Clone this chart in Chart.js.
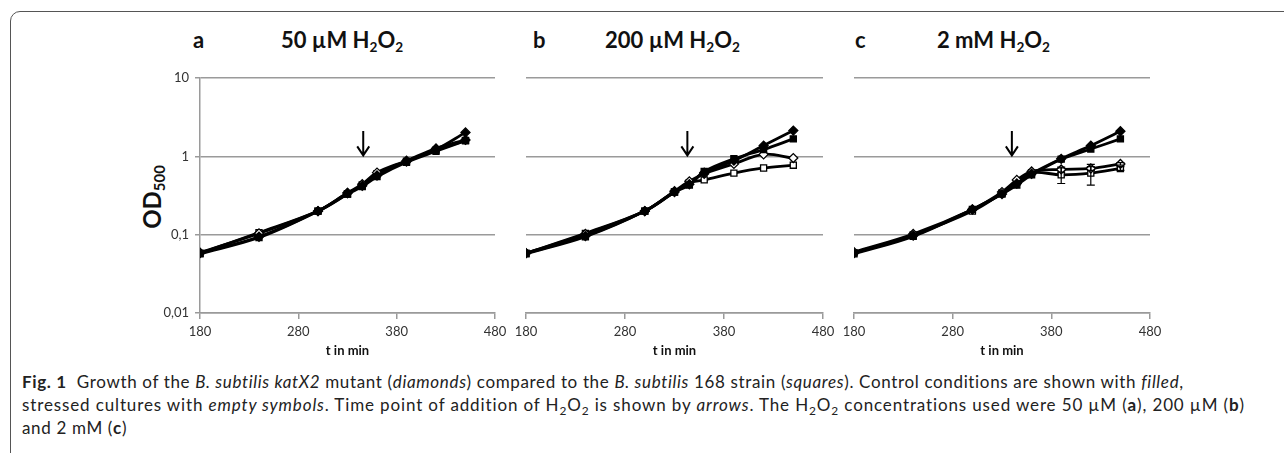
<!DOCTYPE html>
<html>
<head>
<meta charset="utf-8">
<script src="https://cdn.jsdelivr.net/npm/chart.js@4.4.1/dist/chart.umd.min.js"></script>
<style>
  body { margin: 0; width: 1284px; height: 453px; overflow: hidden; position: relative; background: #fff; font-family: Lato, sans-serif; color: #111; }
  .frame { position: absolute; left: 10px; top: 11px; width: 1300px; height: 470px; border: 1.5px solid #555; border-radius: 10px; box-sizing: border-box; }
  .cv { position: absolute; top: 60px; }
  .ttl { position: absolute; top: 26px; font-weight: bold; font-size: 22px; line-height: 28px; white-space: nowrap; }
  .ttl sub { font-size: 0.62em; vertical-align: -0.3em; line-height: 0; }
  #od { position: absolute; left: 117px; top: 182px; width: 70px; height: 30px; line-height: 30px; text-align: center; font-weight: bold; font-size: 24px; transform: rotate(-90deg); transform-origin: 35px 15px; white-space: nowrap; }
  #od sub { font-size: 0.62em; vertical-align: -0.25em; line-height: 0; }
  .cap { position: absolute; left: 22px; font-size: 17px; letter-spacing: 0.65px; line-height: 23px; white-space: nowrap; color: #222; }
  .cap sub { font-size: 0.7em; vertical-align: -0.3em; line-height: 0; }
</style>
</head>
<body>
<div class="frame"></div>

<div class="ttl" style="left:193px">a</div>
<div class="ttl" style="left:281px">50 µM H<sub>2</sub>O<sub>2</sub></div>
<div class="ttl" style="left:533px">b</div>
<div class="ttl" style="left:605px">200 µM H<sub>2</sub>O<sub>2</sub></div>
<div class="ttl" style="left:855px">c</div>
<div class="ttl" style="left:937px">2 mM H<sub>2</sub>O<sub>2</sub></div>

<div id="od">OD<sub>500</sub></div>

<canvas id="chartA" class="cv" style="left:120px" width="390" height="303"></canvas>
<canvas id="chartB" class="cv" style="left:510px" width="328" height="303"></canvas>
<canvas id="chartC" class="cv" style="left:839px" width="326" height="303"></canvas>

<div class="cap" style="top:370px"><b>Fig. 1</b>&nbsp; Growth of the <i>B. subtilis katX2</i> mutant (<i>diamonds</i>) compared to the <i>B. subtilis</i> 168 strain (<i>squares</i>). Control conditions are shown with <i>filled</i>,</div>
<div class="cap" style="top:393px;letter-spacing:0.87px">stressed cultures with <i>empty symbols</i>. Time point of addition of H<sub>2</sub>O<sub>2</sub> is shown by <i>arrows</i>. The H<sub>2</sub>O<sub>2</sub> concentrations used were 50 µM (<b>a</b>), 200 µM (<b>b</b>)</div>
<div class="cap" style="top:416px">and 2 mM (<b>c</b>)</div>

<script>
// sampling times (min)
const times = [180, 240, 300, 330, 345, 360, 390, 420, 450];
const xTicks = [180, 280, 380, 480];
const yTicks = [0.01, 0.1, 1, 10];
const yTickLabels = ['0,01', '0,1', '1', '10'];

// a: 50 µM H2O2
const aKatCtrl   = [0.058, 0.094, 0.20, 0.34, 0.42, 0.57, 0.86, 1.22, 2.02];
const aWtCtrl    = [0.057, 0.092, 0.20, 0.33, 0.41, 0.55, 0.84, 1.16, 1.58];
const aKatStress = [0.059, 0.104, 0.20, 0.34, 0.44, 0.62, 0.88, 1.26, 1.62];
const aWtStress  = [0.058, 0.106, 0.20, 0.33, 0.43, 0.60, 0.87, 1.20, 1.60];

// b: 200 µM H2O2
const bKatCtrl   = [0.058, 0.096, 0.20, 0.35, 0.44, 0.62, 0.88, 1.37, 2.13];
const bWtCtrl    = [0.057, 0.094, 0.20, 0.35, 0.43, 0.64, 0.93, 1.22, 1.67];
const bKatStress = [0.058, 0.102, 0.20, 0.36, 0.48, 0.60, 0.80, 1.06, 0.95];
const bWtStress  = [0.058, 0.104, 0.20, 0.35, 0.46, 0.50, 0.61, 0.71, 0.77];

// c: 2 mM H2O2
const cKatCtrl   = [0.058, 0.097, 0.21, 0.33, 0.45, 0.60, 0.93, 1.37, 2.09];
const cWtCtrl    = [0.057, 0.095, 0.21, 0.33, 0.43, 0.58, 0.92, 1.24, 1.67];
const cKatStress = [0.060, 0.102, 0.21, 0.35, 0.50, 0.64, 0.68, 0.70, 0.80];
const cWtStress  = [0.059, 0.099, 0.20, 0.34, 0.47, 0.62, 0.58, 0.61, 0.70];
const cKatErr    = [0, 0, 0, 0, 0, 0, 0.05, 0.04, 0.03];
const cWtErr     = [0, 0, 0, 0, 0, 0, 0.13, 0.18, 0.04];

// H2O2 addition (arrow) per panel, and arrow span on the OD axis
const arrowTimes = [346, 343, 340];
const arrowSpan = [2.1, 1.03];

const GRID = '#9a9a9a';

function pts(vals) {
  return vals.map((v, i) => ({ x: times[i], y: v }));
}

function series(vals, style, filled, err) {
  return {
    data: pts(vals),
    err: err,
    borderColor: '#000',
    borderWidth: 2.8,
    tension: 0.35,
    pointStyle: style,
    pointRadius: style === 'rectRot' ? 4.5 : 4.3,
    pointBackgroundColor: filled ? '#000' : '#fff',
    pointBorderColor: '#000',
    pointBorderWidth: 1.3
  };
}

const extras = {
  id: 'extras',
  afterDatasetsDraw(chart, args, opt) {
    const { ctx } = chart;
    const x = chart.scales.x, y = chart.scales.y;
    ctx.save();
    ctx.strokeStyle = '#000';
    ctx.lineWidth = 1.2;
    chart.data.datasets.forEach(ds => {
      if (!ds.err) return;
      ds.data.forEach((p, j) => {
        const e = ds.err[j];
        if (!e) return;
        const px = x.getPixelForValue(p.x);
        const y1 = y.getPixelForValue(p.y + e);
        const y2 = y.getPixelForValue(p.y - e);
        ctx.beginPath();
        ctx.moveTo(px, y1); ctx.lineTo(px, y2);
        ctx.moveTo(px - 4, y1); ctx.lineTo(px + 4, y1);
        ctx.moveTo(px - 4, y2); ctx.lineTo(px + 4, y2);
        ctx.stroke();
      });
    });
    // arrow
    const ax = x.getPixelForValue(opt.at);
    const top = y.getPixelForValue(arrowSpan[0]);
    const tip = y.getPixelForValue(arrowSpan[1]);
    ctx.lineWidth = 2;
    ctx.beginPath();
    ctx.moveTo(ax, top); ctx.lineTo(ax, tip);
    ctx.moveTo(ax - 6, tip - 9); ctx.lineTo(ax, tip); ctx.lineTo(ax + 6, tip - 9);
    ctx.stroke();
    ctx.restore();
  }
};

function makePanel(id, sets, arrowAt, showY, padLeft) {
  return new Chart(document.getElementById(id), {
    type: 'line',
    data: { datasets: sets },
    plugins: [extras],
    options: {
      responsive: false,
      animation: false,
      events: [],
      layout: { padding: { left: padLeft, right: 15, top: 18, bottom: 0 } },
      plugins: { legend: { display: false }, tooltip: { enabled: false }, extras: { at: arrowAt } },
      scales: {
        x: {
          type: 'linear', min: 180, max: 480,
          afterBuildTicks: s => { s.ticks = xTicks.map(v => ({ value: v })); },
          ticks: { font: { family: 'Lato', size: 13 }, color: '#333', padding: 5, maxRotation: 0 },
          grid: { drawOnChartArea: false, drawTicks: true, tickLength: 6, color: GRID, lineWidth: 1.5 },
          border: { color: GRID, width: 1.5 },
          title: { display: true, text: 't in min', font: { family: 'Lato', weight: 'bold', size: 13 }, color: '#111', padding: { top: 2, bottom: 4 } },
          afterFit: s => { s.height = 50; s.paddingLeft = 0; s.paddingRight = 0; }
        },
        y: {
          type: 'logarithmic', min: 0.01, max: 10,
          afterBuildTicks: s => { s.ticks = yTicks.map(v => ({ value: v })); },
          ticks: { display: showY, font: { family: 'Lato', size: 13 }, color: '#333', padding: 6, callback: (v, i) => yTickLabels[i] },
          grid: { color: GRID, lineWidth: 1.5, drawTicks: showY, tickLength: 5 },
          border: { display: showY, color: GRID, width: 1.5 },
          afterFit: s => { s.width = showY ? 80 : 0; s.paddingTop = 0; s.paddingBottom = 0; }
        }
      }
    }
  });
}

makePanel('chartA', [
  series(aKatCtrl, 'rectRot', true),
  series(aWtCtrl, 'rect', true),
  series(aKatStress, 'rectRot', false),
  series(aWtStress, 'rect', false)
], arrowTimes[0], true, 0);

makePanel('chartB', [
  series(bKatCtrl, 'rectRot', true),
  series(bWtCtrl, 'rect', true),
  series(bKatStress, 'rectRot', false),
  series(bWtStress, 'rect', false)
], arrowTimes[1], false, 16);

makePanel('chartC', [
  series(cKatCtrl, 'rectRot', true),
  series(cWtCtrl, 'rect', true),
  series(cKatStress, 'rectRot', false, cKatErr),
  series(cWtStress, 'rect', false, cWtErr)
], arrowTimes[2], false, 15);
</script>
</body>
</html>
